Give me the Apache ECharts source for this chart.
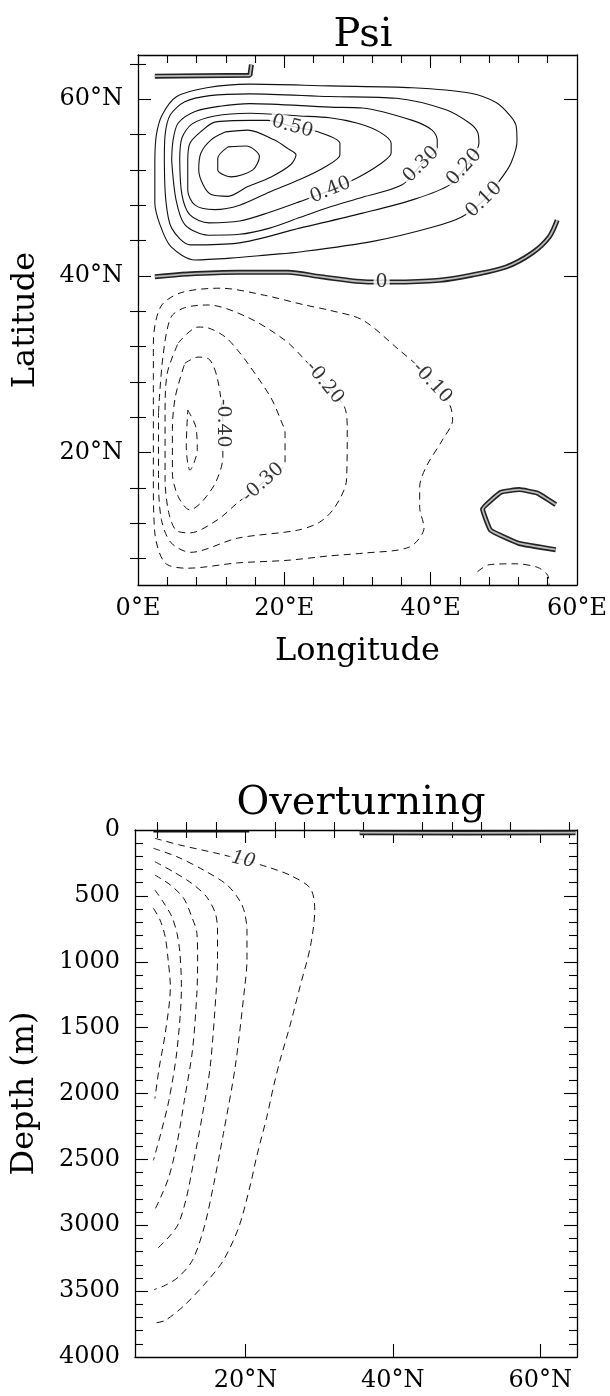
<!DOCTYPE html>
<html><head><meta charset="utf-8">
<script src="https://cdn.jsdelivr.net/npm/echarts@6/dist/echarts.min.js"></script>
<style>html,body{margin:0;padding:0;background:#fff}#c{width:610px;height:1396px}</style>
</head><body><div id="c"></div>
<script>
// ---------- Psi (lon °E, lat °N) ----------
const psi_p70 = [[12.3,54.6],[14.8,54.7],[16.6,53.5],[15.7,52.0],[12.7,51.2],[10.9,52.0],[10.9,53.3],[12.3,54.6]];
const psi_p60 = [[12.0,56.3],[15.0,56.5],[18.6,55.4],[20.5,54.4],[21.6,53.7],[20.9,52.6],[18.2,51.2],[15.0,50.1],[12.3,49.0],[10.0,49.2],[8.9,50.3],[8.3,52.0],[8.6,53.9],[10.0,55.4],[12.0,56.3]];
const psi_p50 = [[6.8,53.1],[7.1,55.0],[8.7,56.4],[10.5,57.4],[15.3,57.6],[17.7,57.6],[21.1,56.9],[24.6,56.3],[27.6,55.0],[27.6,53.7],[25.5,52.3],[22.1,50.9],[18.0,49.5],[13.9,48.0],[10.5,47.5],[7.8,48.0],[6.8,49.7],[6.8,53.1]];
const psi_p40 = [[5.7,53.1],[6.0,55.6],[7.4,57.2],[10.5,58.1],[15.3,58.4],[22.1,58.1],[26.2,57.9],[29.9,57.3],[33.0,56.3],[34.6,55.0],[34.6,53.9],[33.0,52.6],[30.0,51.1],[26.3,49.7],[22.1,48.4],[18.0,47.2],[13.9,46.2],[9.7,46.0],[7.1,46.9],[6.0,49.2],[5.7,53.1]];
const psi_p30 = [[4.6,53.1],[4.8,55.4],[5.5,57.3],[7.8,58.6],[11.2,59.2],[15.3,59.5],[26.2,59.1],[30.7,59.0],[37.5,57.6],[40.2,56.5],[40.9,55.4],[40.9,54.5],[38.7,52.6],[36.1,50.3],[30.7,48.9],[26.2,47.8],[22.1,46.6],[18.0,45.4],[13.9,44.7],[9.6,44.6],[6.4,45.8],[5.2,48.6],[4.6,53.1]];
const psi_p20 = [[3.6,53.1],[3.7,55.9],[4.4,58.2],[6.4,59.7],[9.8,60.4],[15.3,60.6],[26.2,60.3],[35.3,60.1],[42.1,58.8],[45.3,57.3],[46.4,56.3],[46.6,55.0],[45.0,52.6],[42.6,50.3],[37.5,48.6],[30.7,47.1],[22.1,45.4],[13.6,43.7],[7.2,43.5],[4.6,45.4],[3.8,48.6],[3.6,53.1]];
const psi_p10 = [[2.3,53.1],[2.5,55.9],[3.3,58.2],[5.3,60.3],[9.4,61.3],[15.3,61.7],[26.2,61.5],[37.5,61.3],[45.3,60.7],[49.0,59.6],[51.0,58.0],[51.7,56.9],[51.8,55.2],[51.0,52.8],[49.8,51.2],[47.3,48.6],[44.3,46.7],[40.2,45.5],[32.1,43.9],[22.1,42.7],[18.1,42.4],[12.6,42.0],[7.8,41.8],[4.5,43.3],[3.0,45.8],[2.3,48.3],[2.3,53.1]];
const psi_zero = [[2.3,39.9],[6.8,40.2],[13.6,40.4],[20.5,40.4],[25.0,39.9],[31.8,39.3],[34.8,39.3],[41.2,39.5],[45.7,40.1],[50.3,41.0],[53.9,42.6],[56.2,44.4],[57.3,46.3]];
const psi_zeroTop = [[2.3,62.6],[15.3,62.7],[15.5,63.9]];
const psi_zeroC = [[57.1,14.1],[54.6,15.4],[52.1,15.8],[49.6,15.5],[47.1,13.6],[48.2,11.2],[52.1,9.7],[57.1,9.0]];
const psi_m10 = [[2.1,28.2],[2.1,32.4],[3.1,36.5],[5.9,38.1],[11.3,38.6],[17.3,37.8],[22.8,36.7],[26.2,36.1],[30.7,35.0],[35.7,31.6],[38.5,29.6],[40.2,27.9],[42.6,25.4],[43.0,23.7],[41.6,21.4],[39.4,18.4],[38.5,16.1],[38.5,13.8],[39.1,11.5],[37.1,9.3],[30.7,8.6],[26.2,8.3],[20.5,7.8],[13.6,7.5],[6.8,6.9],[3.7,7.5],[2.3,10.9],[2.1,16.9],[2.1,28.2]];
const psi_m20 = [[2.8,24.5],[3.4,30.8],[4.5,35.3],[6.4,36.4],[9.6,36.7],[15.0,35.3],[20.1,32.7],[22.8,30.5],[25.5,27.9],[28.2,25.2],[28.6,22.6],[28.5,16.9],[26.9,13.8],[24.8,12.1],[21.8,11.2],[13.6,10.3],[7.2,8.7],[4.5,9.8],[3.2,12.4],[2.8,16.9],[2.8,24.5]];
const psi_m30 = [[5.5,32.4],[8.2,34.2],[9.6,34.1],[11.9,33.1],[13.6,31.6],[15.0,30.1],[18.1,26.3],[19.5,23.7],[20.1,22.2],[20.1,18.9],[17.1,16.6],[13.6,14.3],[10.9,12.4],[7.1,10.9],[5.2,11.2],[4.2,13.2],[3.7,16.9],[3.7,24.5],[4.0,29.0],[5.5,32.4]];
const psi_m40 = [[6.4,30.1],[8.2,30.8],[9.8,30.5],[10.9,28.2],[11.6,23.3],[11.6,19.5],[10.6,16.6],[8.6,14.3],[7.1,13.5],[5.5,15.0],[4.7,17.7],[4.7,22.6],[5.1,26.3],[6.4,30.1]];
const psi_m50 = [[6.8,24.8],[7.9,22.9],[8.1,20.3],[7.1,18.0],[6.6,20.6],[6.8,24.8]];
const psi_m10b = [[46.4,6.5],[48.0,7.3],[51.6,7.4],[54.6,7.0],[56.0,6.1],[56.2,5.0]];
// [lon, lat, text, rotation]
const psiLabels = [[21.1,56.9,'0.50',-15],[26.3,49.7,'0.40',22],[38.7,52.6,'0.30',45],[44.6,52.3,'0.20',48],[47.3,48.6,'0.10',44],[33.3,39.3,'0',0],[25.5,27.9,'-0.20',-51],[11.6,23.3,'-0.40',-90],[17.1,16.6,'-0.30',42],[40.2,27.9,'-0.10',-47]];
const psiLonLabels = [0,20,40,60];
const psiLatLabels = [20,40,60];

// ---------- Overturning (lat °N, depth m) ----------
const over_A = [[7.7,63],[11.1,114],[16.1,177],[19.7,228],[22.9,279],[26.0,342],[28.8,443],[29.4,607],[28.8,886],[27.4,1189],[26.0,1493],[24.7,1746],[23.8,1948],[22.9,2176],[21.5,2482],[20.7,2684],[19.1,3013],[17.0,3266],[14.9,3418],[11.7,3608],[9.1,3722],[7.7,3742]];
const over_B = [[7.5,139],[10.7,203],[14.3,304],[17.5,417],[19.3,544],[19.9,632],[20.2,759],[20.2,987],[19.9,1189],[18.6,1799],[17.0,2304],[15.7,2684],[14.4,3013],[12.8,3266],[10.9,3393],[9.1,3456],[7.6,3488]];
const over_C = [[7.7,241],[10.2,317],[12.7,405],[14.7,506],[15.9,632],[16.2,759],[16.2,987],[16.0,1239],[15.2,1799],[14.1,2178],[13.0,2507],[12.0,2786],[10.9,2988],[9.6,3089],[7.7,3195]];
const over_D = [[7.7,342],[9.8,417],[11.6,518],[12.7,658],[13.4,784],[13.5,987],[13.4,1239],[12.8,1672],[11.7,2052],[10.7,2380],[9.6,2634],[8.5,2786],[7.7,2881]];
const over_E = [[7.7,455],[8.8,544],[10.0,658],[10.7,784],[11.1,936],[11.3,1189],[10.7,1672],[9.6,2052],[8.5,2304],[7.5,2507]];
const over_F = [[7.5,594],[8.4,683],[9.1,810],[9.5,987],[9.8,1189],[9.1,1546],[8.3,1799],[7.7,2039]];
const over_zeroW = [[7.5,10],[20.5,10]];
const over_zeroE = [[35.5,20],[50,22],[64.8,20]];
const overLabels = [[19.7,228,'10',-12]];
const overLatLabels = [20,40,60];
const overDepthLabels = [0,500,1000,1500,2000,2500,3000,3500,4000];

// ---------- chart ----------
const FONT = 'DejaVu Serif';
const majorLen = 13, minorLen = 8;
function range(a, b, s) { const r = []; for (let v = a; v <= b + 1e-9; v += s) r.push(v); return r; }
function minors(a, b, s, majors) { return range(a, b, s).filter(v => majors.indexOf(v) < 0); }

function axisSet(dim, grid, min, max, majors, minorVals, labelVals, fmt, name, nameGap, inverse) {
  const base = { type: 'value', gridIndex: grid, min: min, max: max, inverse: !!inverse, splitLine: { show: false } };
  const posA = dim === 'x' ? 'bottom' : 'left';
  const posB = dim === 'x' ? 'top' : 'right';
  const line = { show: true, onZero: false, lineStyle: { color: '#000', width: 1.3 } };
  const out = [];
  out.push(Object.assign({}, base, {
    position: posA, axisLine: line,
    axisTick: { show: true, inside: true, length: majorLen, customValues: majors, lineStyle: { color: '#000', width: 1.1 } },
    axisLabel: { show: true, customValues: labelVals, formatter: fmt, color: '#000', fontFamily: FONT, fontSize: 24, margin: dim === 'x' ? 12 : 15 },
    name: name, nameLocation: 'middle', nameGap: nameGap,
    nameTextStyle: { color: '#000', fontFamily: FONT, fontSize: 32 }
  }));
  out.push(Object.assign({}, base, {
    position: posA, axisLine: { show: false },
    axisTick: { show: true, inside: true, length: minorLen, customValues: minorVals, lineStyle: { color: '#000', width: 1.1 } },
    axisLabel: { show: false }
  }));
  out.push(Object.assign({}, base, {
    position: posB, axisLine: line,
    axisTick: { show: true, inside: true, length: majorLen, customValues: majors, lineStyle: { color: '#000', width: 1.1 } },
    axisLabel: { show: false }
  }));
  out.push(Object.assign({}, base, {
    position: posB, axisLine: { show: false },
    axisTick: { show: true, inside: true, length: minorLen, customValues: minorVals, lineStyle: { color: '#000', width: 1.1 } },
    axisLabel: { show: false }
  }));
  return out;
}

const xAxes = [].concat(
  axisSet('x', 0, 0, 60, [20, 40], minors(4, 56, 4, [20, 40]), psiLonLabels, v => v + '°E', 'Longitude', 51),
  axisSet('x', 1, 5, 65, [20, 40, 60], minors(8, 64, 4, [20, 40, 60]), overLatLabels, v => v + '°N', '', 30)
);
const yAxes = [].concat(
  axisSet('y', 0, 5, 65, [20, 40, 60], minors(8, 64, 4, [20, 40, 60]), psiLatLabels, v => v + '°N', 'Latitude', 96),
  axisSet('y', 1, 0, 4000, range(500, 3500, 500), minors(100, 3900, 100, range(500, 3500, 500)), overDepthLabels, v => String(v), 'Depth (m)', 94, true)
);

const series = [];
function solid(data, g, w) { series.push({ type: 'line', xAxisIndex: g * 4, yAxisIndex: g * 4, data: data, showSymbol: false, symbol: 'none', smooth: 0.3, silent: true, lineStyle: { color: '#111', width: w || 1.1 }, z: 3 }); }
function dashed(data, g) { series.push({ type: 'line', xAxisIndex: g * 4, yAxisIndex: g * 4, data: data, showSymbol: false, symbol: 'none', smooth: 0.3, silent: true, lineStyle: { color: '#111', width: 1.0, type: [7, 5] }, z: 3 }); }
function dbl(data, g, smooth) {
  series.push({ type: 'line', xAxisIndex: g * 4, yAxisIndex: g * 4, data: data, showSymbol: false, symbol: 'none', smooth: smooth, silent: true, lineStyle: { color: '#222', width: 5 }, z: 4 });
  series.push({ type: 'line', xAxisIndex: g * 4, yAxisIndex: g * 4, data: data, showSymbol: false, symbol: 'none', smooth: smooth, silent: true, lineStyle: { color: '#bbb', width: 1.8 }, z: 5 });
}
function labels(list, g, italic) {
  series.push({
    type: 'scatter', xAxisIndex: g * 4, yAxisIndex: g * 4, symbolSize: 1, silent: true, z: 10,
    itemStyle: { color: 'rgba(0,0,0,0)' },
    data: list.map(l => ({ value: [l[0], l[1]], label: { formatter: l[2], rotate: l[3] } })),
    label: { show: true, position: 'inside', color: '#000', fontFamily: FONT, fontSize: 19, fontStyle: italic ? 'italic' : 'normal', backgroundColor: '#fff', padding: [0, 2] }
  });
}

[psi_p10, psi_p20, psi_p30, psi_p40, psi_p50, psi_p60, psi_p70].forEach(d => solid(d, 0));
[psi_m10, psi_m20, psi_m30, psi_m40, psi_m50, psi_m10b].forEach(d => dashed(d, 0));
dbl(psi_zero, 0, 0.3); dbl(psi_zeroTop, 0, 0); dbl(psi_zeroC, 0, 0.1);
labels(psiLabels, 0, false);

[over_A, over_B, over_C, over_D, over_E, over_F].forEach(d => dashed(d, 1));
solid(over_zeroW, 1, 2.2);
dbl(over_zeroE, 1, 0);
labels(overLabels, 1, true);

const chart = echarts.init(document.getElementById('c'), null, { renderer: 'canvas' });
chart.setOption({
  animation: false,
  backgroundColor: '#fff',
  title: [
    { text: 'Psi', left: 358, top: 11, textAlign: 'center', textStyle: { fontFamily: FONT, fontSize: 40, fontWeight: 'normal', color: '#000' } },
    { text: 'Overturning', left: 356, top: 779, textAlign: 'center', textStyle: { fontFamily: FONT, fontSize: 40, fontWeight: 'normal', color: '#000' } }
  ],
  grid: [
    { left: 138, top: 55, width: 440, height: 530, containLabel: false },
    { left: 135, top: 830, width: 442, height: 527, containLabel: false }
  ],
  xAxis: xAxes,
  yAxis: yAxes,
  series: series
});
</script></body></html>
